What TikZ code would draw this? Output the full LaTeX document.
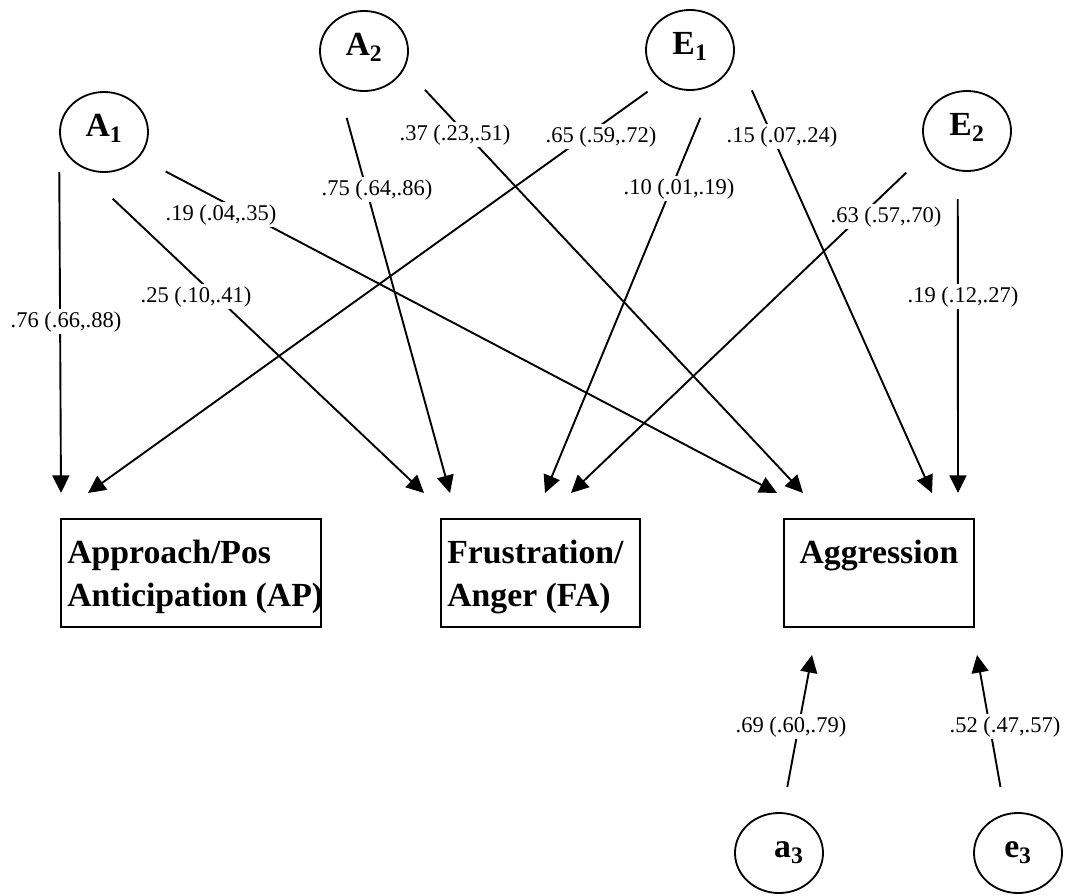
\documentclass[tikz,border=0pt]{standalone}
\usepackage{fontspec}
\setmainfont{Liberation Serif}
\usetikzlibrary{arrows.meta,shapes.geometric}

\begin{document}
\begin{tikzpicture}[x=0.025cm, y=-0.025cm,
	latent/.style = {draw, ellipse, line width=1.3pt, minimum width=2.2cm, minimum height=2cm, inner sep=0pt, text height=7pt, text depth=0pt, font=\fontsize{24}{28}\selectfont\bfseries},
	obs/.style = {draw, rectangle, line width=1.5pt, inner sep=0pt, minimum height=2.7cm},
	obstext/.style = {align=left, inner sep=0pt, font=\fontsize{24}{30.5}\selectfont\bfseries},
	arr/.style = {line width=1.35pt, -{Triangle[length=12.5pt, width=12pt]}},
	coef/.style = {fill=white, inner sep=1.5pt, anchor=base, font=\fontsize{16}{19}\selectfont}]
	\useasboundingbox (0,0) rectangle (1072,895);
	% latent factors
	\node[latent] (a1) at (104,132) {A\textsubscript{1}};
	\node[latent] (a2) at (364,51) {A\textsubscript{2}};
	\node[latent] (e1) at (690,50) {E\textsubscript{1}};
	\node[latent] (e2) at (967,131) {E\textsubscript{2}};
	\node[latent] (a3) at (779,853) {\hspace{14pt}a\textsubscript{3}};
	\node[latent] (e3) at (1018,853) {e\textsubscript{3}};
	% observed
	\node[obs, minimum width=6.5cm] (ap) at (191,573) {};
	\node[obs, minimum width=4.975cm] (fa) at (540.5,573) {};
	\node[obs, minimum width=4.75cm] (agg) at (879,573) {};
	\node[obstext, anchor=base west] (aptext) at (67,606) {Approach/Pos\\Anticipation (AP)};
	\node[obstext, anchor=base west] (fatext) at (447,606) {Frustration/\\Anger (FA)};
	\node[obstext, anchor=base] (aggtext) at (879,563) {Aggression};
	% arrow ends
	\coordinate (ap1) at (61,493);
	\coordinate (ap2) at (88,493);
	\coordinate (fa1) at (424,493);
	\coordinate (fa2) at (450,493);
	\coordinate (fa3) at (545,493);
	\coordinate (fa4) at (571,493);
	\coordinate (agg1) at (777,493);
	\coordinate (agg2) at (803,493);
	\coordinate (agg3) at (932,493);
	\coordinate (agg4) at (958,493);
	\coordinate (agg5) at (812,655);
	\coordinate (agg6) at (977,655);
	% paths
	\draw[arr, shorten <=1cm] (a1.west) -- (ap1);
	\draw[arr, shorten <=1.26cm] (a1.-131.5) -- (fa1);
	\draw[arr, shorten <=0.75cm] (a1.-36) -- (agg1);
	\draw[arr, shorten <=0.88cm] (a2.-129) -- (fa2);
	\draw[arr, shorten <=0.74cm] (a2.-23.6) -- (agg2);
	\draw[arr, shorten <=0.43cm] (e1.-132) -- (ap2);
	\draw[arr, shorten <=0.9cm] (e1.-55) -- (fa3);
	\draw[arr, shorten <=1.04cm] (e1.-3) -- (agg3);
	\draw[arr, shorten <=0.76cm] (e2.-152) -- (fa4);
	\draw[arr, shorten <=0.7cm] (e2.-103) -- (agg4);
	\draw[arr, shorten <=0.64cm] (a3.85) -- (agg5);
	\draw[arr, shorten <=0.68cm] (e3.108) -- (agg6);
	% coefficients
	\node[coef] (c1) at (66,327) {.76 (.66,.88)};
	\node[coef] (c2) at (196,302) {.25 (.10,.41)};
	\node[coef] (c3) at (221,220) {.19 (.04,.35)};
	\node[coef] (c4) at (377,195) {.75 (.64,.86)};
	\node[coef] (c5) at (455,140) {.37 (.23,.51)};
	\node[coef] (c6) at (601,142) {.65 (.59,.72)};
	\node[coef] (c7) at (679,194) {.10 (.01,.19)};
	\node[coef] (c8) at (782,142) {.15 (.07,.24)};
	\node[coef] (c9) at (886,222) {.63 (.57,.70)};
	\node[coef] (c10) at (963,302) {.19 (.12,.27)};
	\node[coef] (c11) at (791,732) {.69 (.60,.79)};
	\node[coef] (c12) at (1005,732) {.52 (.47,.57)};
\end{tikzpicture}
\end{document}
